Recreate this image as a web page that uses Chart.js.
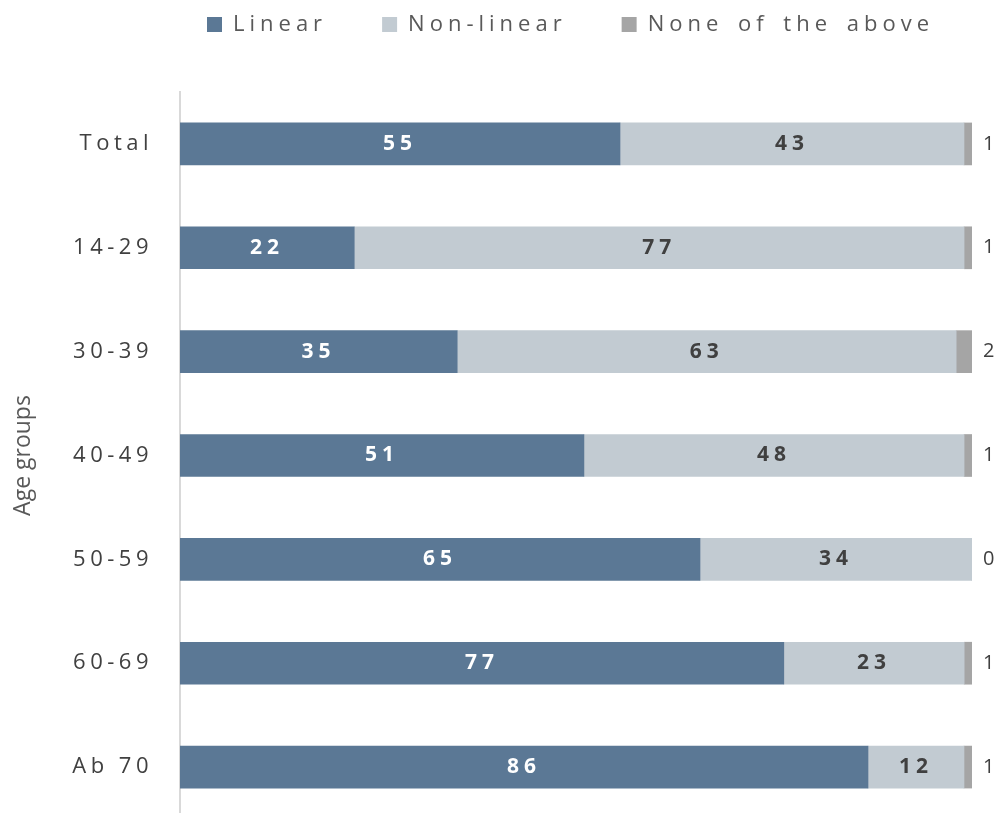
<!DOCTYPE html>
<html><head><meta charset="utf-8">
<script src="https://cdn.jsdelivr.net/npm/chart.js@4/dist/chart.umd.min.js"></script>
<style>html,body{margin:0;padding:0;overflow:hidden;background:#fff}canvas{display:block}</style>
</head><body>
<canvas id="c" width="994" height="820"></canvas>
<script>
// ---- data ----
const categories = ['Total', '14-29', '30-39', '40-49', '50-59', '60-69', 'Ab 70'];
const linear = [55, 22, 35, 51, 65, 77, 86];
const nonLinear = [43, 77, 63, 48, 34, 23, 12];
const noneAbove = [1, 1, 2, 1, 0, 1, 1];
const seriesNames = ['Linear', 'Non-linear', 'None of the above'];
const axisTitle = 'Age groups';

// each bar is drawn as a share of its row (rows are 100% stacked)
const rowTotals = categories.map((_, i) => linear[i] + nonLinear[i] + noneAbove[i]);
const share = arr => arr.map((v, i) => v / rowTotals[i] * 100);
const rawSeries = [linear, nonLinear, noneAbove];

const SPACING = '4.5px';
const LEGEND_SPACING = '5px';
const LEGEND_WORD_SPACING = '4px';
const LEGEND_PAD = 55;

Chart.defaults.font.family = '"Open Sans", sans-serif';

function withSpacing(obj, name, spacing, wordSpacing) {
  const orig = obj[name];
  obj[name] = function (...args) {
    const c = this.ctx;
    const prev = c.letterSpacing;
    const prevW = c.wordSpacing;
    c.letterSpacing = spacing;
    if (wordSpacing !== undefined) c.wordSpacing = wordSpacing;
    const r = orig.apply(this, args);
    c.letterSpacing = prev;
    if (wordSpacing !== undefined) c.wordSpacing = prevW;
    return r;
  };
}

const stylePlugin = {
  id: 'stylePlugin',
  beforeLayout(chart) {
    chart.ctx.letterSpacing = SPACING;
    const lg = chart.legend;
    if (lg && !lg._patched) {
      const f = lg.fit;
      lg.fit = function () {
        const mw = this.maxWidth;
        this.maxWidth = 5000;
        f.call(this);
        this.maxWidth = mw;
        this.width = mw;
      };
      withSpacing(lg, 'fit', LEGEND_SPACING, LEGEND_WORD_SPACING);
      withSpacing(lg, 'draw', LEGEND_SPACING, LEGEND_WORD_SPACING);
      lg._patched = true;
    }
  },
  beforeDraw(chart) {
    chart.ctx.letterSpacing = SPACING;
    const y = chart.scales.y;
    if (y && !y._titlePatched) {
      withSpacing(y, 'drawTitle', '0px');
      y._titlePatched = true;
    }
    const lg = chart.legend;
    if (lg) {
      const h = lg.height;
      lg.top = 13.5 - LEGEND_PAD;
      lg.bottom = lg.top + h;
      lg.left = 207 - LEGEND_PAD;
      lg.right = 2000;
      lg.width = lg.right - lg.left;
    }
  },
  afterDatasetsDraw(chart) {
    const ctx = chart.ctx;
    ctx.save();
    ctx.textBaseline = 'middle';
    chart.data.datasets.forEach((ds, di) => {
      const meta = chart.getDatasetMeta(di);
      meta.data.forEach((bar, i) => {
        const txt = String(rawSeries[di][i]);
        if (di === 2) {
          ctx.font = '400 20px "Open Sans"';
          ctx.letterSpacing = '0px';
          ctx.fillStyle = '#404040';
          ctx.textAlign = 'left';
          ctx.fillText(txt, chart.chartArea.right + 11, bar.y);
        } else {
          ctx.font = '700 21px "Open Sans"';
          ctx.letterSpacing = '5px';
          ctx.fillStyle = di === 0 ? '#ffffff' : '#404040';
          ctx.textAlign = 'center';
          ctx.fillText(txt, (bar.x + bar.base) / 2, bar.y);
        }
      });
    });
    ctx.restore();
  }
};

new Chart(document.getElementById('c'), {
  type: 'bar',
  data: {
    labels: categories,
    datasets: [
      { label: seriesNames[0], data: share(linear), backgroundColor: '#5b7895' },
      { label: seriesNames[1], data: share(nonLinear), backgroundColor: '#c2cbd2' },
      { label: seriesNames[2], data: share(noneAbove), backgroundColor: '#a5a5a5' }
    ]
  },
  options: {
    indexAxis: 'y',
    responsive: false,
    animation: false,
    devicePixelRatio: 1,
    layout: { padding: { top: 5, right: 22, left: 0, bottom: 1 } },
    datasets: { bar: { barThickness: 42, borderWidth: 0 } },
    scales: {
      x: { stacked: true, min: 0, max: 100, display: false },
      y: {
        stacked: true,
        grid: { display: false },
        border: { display: true, color: '#d9d9d9', width: 2 },
        ticks: { color: '#404040', font: { size: 22 }, padding: 19 },
        title: {
          display: true, text: axisTitle, color: '#595959',
          font: { size: 23 }, padding: { top: 10, bottom: 0 }
        },
        afterFit(scale) {
          scale.width = 180;
          scale.paddingTop = 0;
          scale.paddingBottom = 0;
        }
      }
    },
    plugins: {
      legend: {
        position: 'top',
        align: 'start',
        labels: {
          color: '#595959', font: { size: 22 },
          boxWidth: 15, boxHeight: 15, padding: LEGEND_PAD
        }
      },
      tooltip: { enabled: false }
    }
  },
  plugins: [stylePlugin]
});
</script>
</body></html>
